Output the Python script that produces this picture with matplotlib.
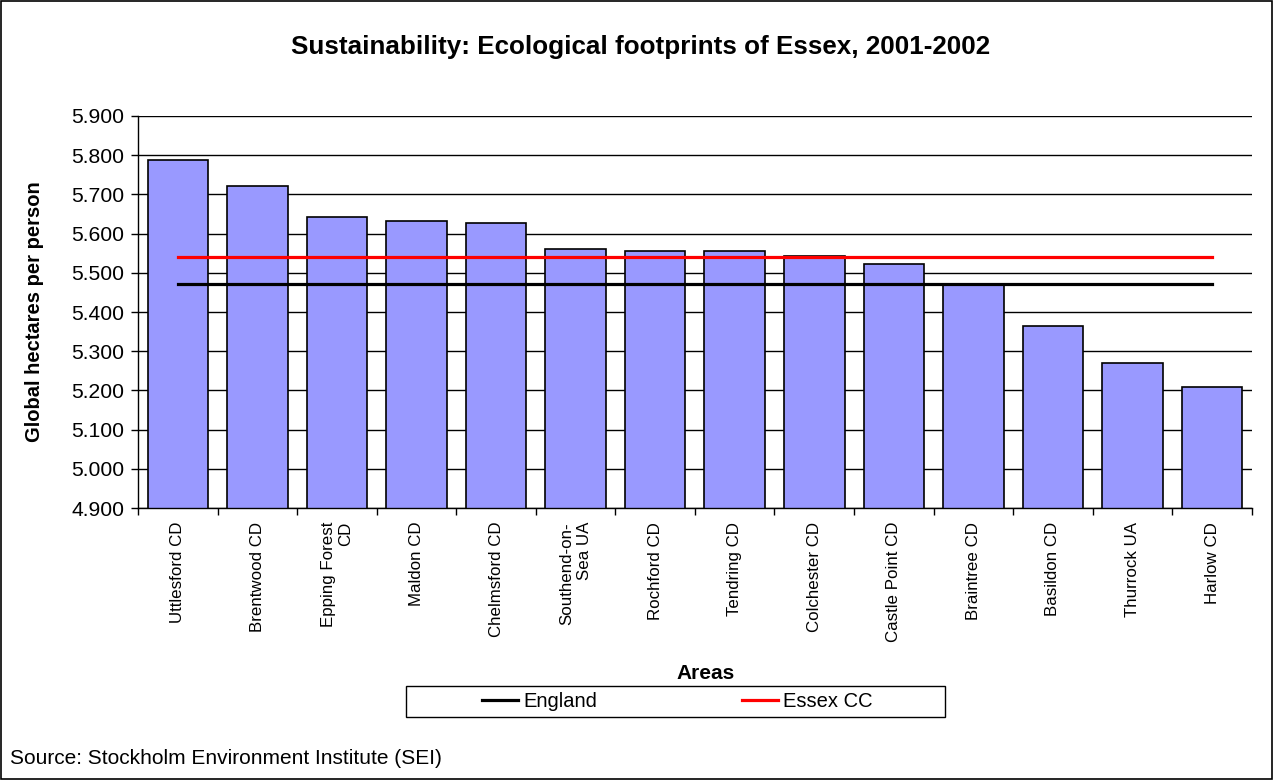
import matplotlib
matplotlib.use("Agg")
import matplotlib.pyplot as plt
import numpy as np
from matplotlib.patches import Rectangle
from matplotlib.ticker import FormatStrFormatter, FixedLocator

plt.rcParams['font.family'] = ['Liberation Sans', 'DejaVu Sans']

areas = ["Uttlesford CD", "Brentwood CD", "Epping Forest\nCD", "Maldon CD",
         "Chelmsford CD", "Southend-on-\nSea UA", "Rochford CD", "Tendring CD",
         "Colchester CD", "Castle Point CD", "Braintree CD", "Basildon CD",
         "Thurrock UA", "Harlow CD"]
footprint = [5.788, 5.721, 5.643, 5.633, 5.628, 5.561, 5.556, 5.555,
             5.544, 5.523, 5.468, 5.365, 5.270, 5.209]
england = [5.471] * len(areas)
essex_cc = [5.540] * len(areas)
yticks = [4.9, 5.0, 5.1, 5.2, 5.3, 5.4, 5.5, 5.6, 5.7, 5.8, 5.9]

fig = plt.figure(figsize=(12.73, 7.8), dpi=100)
ax = fig.add_axes([0.1084, 0.3487, 0.875, 0.5026])

x = np.arange(len(areas))
ax.set_axisbelow(True)
ax.yaxis.grid(True, color='black', linewidth=1.0)
ax.bar(x, footprint, width=0.76, color='#9999FF', edgecolor='black', linewidth=1.2, zorder=2)
ax.plot(x, england, color='black', linewidth=2.3, label='England', zorder=3)
ax.plot(x, essex_cc, color='#FF0000', linewidth=2.3, label='Essex CC', zorder=3)

ax.set_xlim(-0.5, len(areas) - 0.5)
ax.set_ylim(4.9, 5.9)
ax.set_yticks(yticks)
ax.yaxis.set_major_formatter(FormatStrFormatter('%.3f'))
ax.tick_params(axis='y', labelsize=15.2, length=5, width=1, direction='out', pad=5)

ax.set_xticks(x)
ax.set_xticklabels(areas, rotation=90, fontsize=12.2, ha='center', va='top',
                   multialignment='right')
ax.tick_params(axis='x', length=0, pad=10)
ax.xaxis.set_minor_locator(FixedLocator(np.arange(-0.5, len(areas), 1.0)))
ax.tick_params(axis='x', which='minor', length=5, width=1, direction='out')

for s in ['top', 'right']:
    ax.spines[s].set_visible(False)
ax.spines['left'].set_linewidth(1)
ax.spines['bottom'].set_linewidth(1)

ax.set_ylabel('Global hectares per person', fontsize=14.5, fontweight='bold')
ax.yaxis.set_label_coords(-0.084, 0.5)
fig.text(0.503, 0.94, 'Sustainability: Ecological footprints of Essex, 2001-2002',
         ha='center', va='center', fontsize=18.7, fontweight='bold')
fig.text(0.554, 0.137, 'Areas', ha='center', va='center', fontsize=15, fontweight='bold')
fig.text(0.008, 0.027, 'Source: Stockholm Environment Institute (SEI)',
         ha='left', va='center', fontsize=15)

leg = fig.legend(handles=ax.get_lines(), labels=['England', 'Essex CC'],
                 loc='center', bbox_to_anchor=(0.532, 0.1006), ncol=2,
                 frameon=False, fontsize=14.5,
                 handlelength=1.8, handletextpad=0.25, columnspacing=7.2,
                 borderpad=0.3, borderaxespad=0)

fig.patches.append(Rectangle((406 / 1273, 1 - 717 / 780), 539 / 1273, 31 / 780,
                             transform=fig.transFigure, fill=False,
                             edgecolor='black', linewidth=1.0))
fig.patches.append(Rectangle((0.001, 0.001), 0.998, 0.998, transform=fig.transFigure,
                             fill=False, edgecolor='black', linewidth=1.2))

fig.savefig('out.png', dpi=100)
